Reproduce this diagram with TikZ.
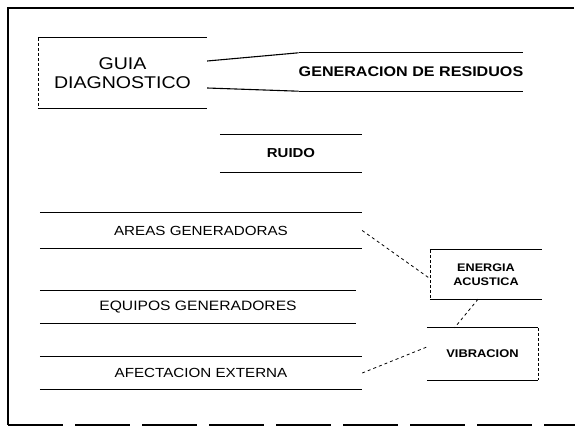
\documentclass[tikz,border=0pt]{standalone}
\usepackage{fontspec}
\setmainfont[FakeStretch=1.15]{Liberation Sans}
\usetikzlibrary{calc}

\tikzset{
  band/.style={inner sep=0pt, align=center},
  rule/.style={line width=1.1pt},
  link/.style={dashed, line width=0.8pt},
  side/.style={densely dashed, line width=0.5pt}
}

\begin{document}
\begin{tikzpicture}[x=1pt,y=-1pt]
\useasboundingbox (0,0) rectangle (575,431);
% frame
\draw[line width=2pt] (574,8) -- (8,8) -- (8,425);
\draw[line width=1.5pt, dash pattern=on 55pt off 12pt] (8,425) -- (575,425);

\node[band, minimum width=169pt, minimum height=70pt, font=\fontsize{17}{19}\selectfont] (guia) at (122.5,73) {GUIA\\DIAGNOSTICO};
\node[band, minimum width=222pt, minimum height=38pt, font=\fontsize{14}{16}\selectfont\bfseries] (residuos) at (411,72) {GENERACION DE RESIDUOS};
\node[band, minimum width=142pt, minimum height=37pt, font=\fontsize{13}{15}\selectfont\bfseries] (ruido) at (291,153.5) {RUIDO};
\node[band, minimum width=322pt, minimum height=35pt, font=\fontsize{13.2}{15}\selectfont] (areas) at (201,230.5) {AREAS GENERADORAS};
\node[band, minimum width=316pt, minimum height=32pt, font=\fontsize{13.6}{15}\selectfont] (equipos) at (198,307) {EQUIPOS GENERADORES};
\node[band, minimum width=322pt, minimum height=32pt, font=\fontsize{13.2}{15}\selectfont] (afectacion) at (201,373) {AFECTACION EXTERNA};
\node[band, minimum width=112pt, minimum height=49pt, font=\fontsize{11}{14.5}\selectfont\bfseries] (energia) at (486,274.5) {ENERGIA\\ACUSTICA};
\node[band, minimum width=111pt, minimum height=52pt, font=\fontsize{11.2}{13}\selectfont\bfseries] (vibracion) at (482.5,354) {VIBRACION};

% top and bottom rules of each box
\foreach \n in {guia,residuos,ruido,areas,equipos,afectacion,energia,vibracion}
  \draw[rule] (\n.north west) -- (\n.north east) (\n.south west) -- (\n.south east);

% faint sides
\draw[side] (guia.north west) -- (guia.south west);
\draw[side] (energia.north west) -- (energia.south west);
\draw[side] (vibracion.north east) -- (vibracion.south east);

% funnel into residuos
\draw[rule] ([yshift=12pt]guia.east) -- (residuos.north west);
\draw[rule] ([yshift=-15pt]guia.east) -- (residuos.south west);

% dashed links
\draw[link] (areas.east) -- ([yshift=-4pt]energia.west);
\draw[link] ([xshift=-8pt]energia.south) -- ([xshift=-28pt]vibracion.north);
\draw[link] (afectacion.east) -- ([yshift=7pt]vibracion.west);
\end{tikzpicture}
\end{document}
